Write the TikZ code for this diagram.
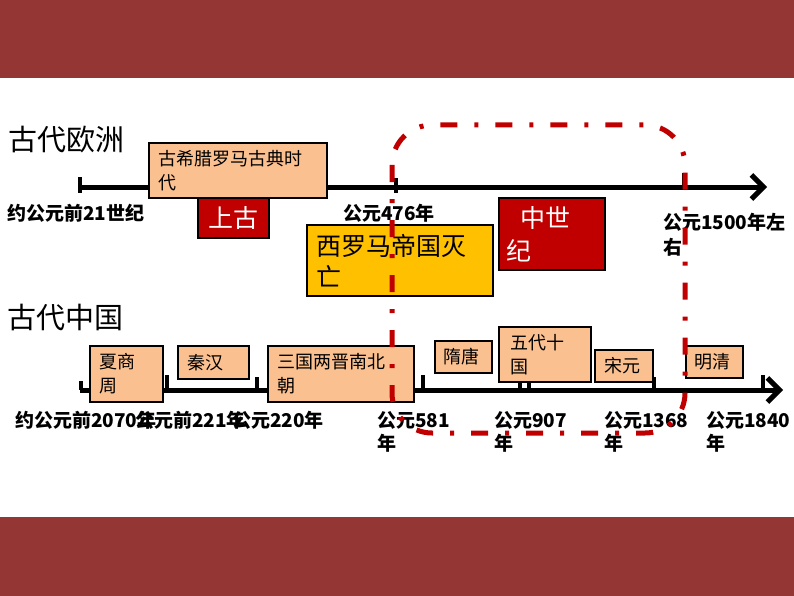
\documentclass[tikz,border=0pt]{standalone}
\usepackage{fontspec}
\setmainfont{Noto Sans CJK SC}
\usetikzlibrary{arrows.meta}
\definecolor{bandred}{HTML}{943634}
\definecolor{peach}{HTML}{FAC090}
\definecolor{eradark}{HTML}{C00000}
\definecolor{gold}{HTML}{FFC000}

\begin{document}
\begin{tikzpicture}[x=1pt, y=-1pt,
  axis/.style={line width=5pt, -{Straight Barb[length=12pt,width=24pt,line width=5pt]}},
  tickmark/.style={line width=4pt},
  era/.style={draw=black, line width=1.6pt, fill=peach, anchor=north west,
    inner xsep=10pt, inner ysep=0pt, align=left, font=\fontsize{18}{24}\selectfont},
  bigera/.style={era, font=\fontsize{25}{31}\selectfont},
  datelab/.style={anchor=base west, inner sep=0pt, align=left,
    font=\fontsize{19}{23}\selectfont\bfseries},
  title/.style={anchor=base west, inner sep=0pt, font=\fontsize{29}{33}\selectfont}]
\useasboundingbox (0,0) rectangle (794,596);
% bands
\fill[bandred] (0,0) rectangle (794,78);
\fill[bandred] (0,517) rectangle (794,596);

\node[title] (eutitle) at (8,151) {古代欧洲};
\node[title] (cntitle) at (7,328) {古代中国};

% europe axis
\coordinate (eu0) at (80,187);
\coordinate (eu1) at (767,187);
\draw[axis] (eu0) -- (eu1);
\foreach \x/\a/\b in {80/177/193, 396/178/193, 684/173/189}
  \draw[tickmark] (\x,\a) -- (\x,\b);

\node[era, minimum width=178pt, text width=158pt, minimum height=55pt] (greek) at (148,142) {古希腊罗马古典时\\代};
\node[bigera, fill=eradark, text=white, align=center, minimum width=71pt, text width=51pt, minimum height=40pt] (shanggu) at (197,197) {上古};
\node[bigera, fill=gold, minimum width=186pt, text width=166pt, minimum height=71pt] (fall) at (306,224) {西罗马帝国灭\\亡};
\node[bigera, fill=eradark, text=white, font=\fontsize{25}{33}\selectfont, inner xsep=8pt, minimum width=106pt, text width=90pt, minimum height=72pt] (zhongshi) at (498,197) {\hspace*{14pt}中世\\纪};

\node[datelab] (d21) at (7,220) {约公元前21世纪};
\node[datelab] (d476) at (343,220) {公元476年};
% two-line labels sit on their last line
\node[datelab, font=\fontsize{19}{25}\selectfont\bfseries] (d1500) at (663,254) {公元1500年左\\右};

% china axis
\coordinate (cn0) at (80,390);
\coordinate (cn1) at (783,390);
\draw[axis] (cn0) -- (cn1);
\foreach \x/\a in {81/381, 167/375, 257/377, 423/375, 520/382, 529/382, 654/377, 763/375}
  \draw[tickmark] (\x,\a) -- (\x,390);

\node[era, minimum width=73pt, text width=53pt, minimum height=56pt] (xia) at (89,345) {夏商\\周};
\node[era, minimum width=71pt, text width=51pt, minimum height=33pt] (qinhan) at (177,345) {秦汉};
\node[era, minimum width=146pt, text width=126pt, minimum height=56pt] (sanguo) at (267,345) {三国两晋南北\\朝};
\node[era, inner xsep=9pt, minimum width=57pt, text width=39pt, minimum height=32pt] (suitang) at (434,340) {隋唐};
\node[era, inner xsep=12pt, minimum width=92pt, text width=68pt, minimum height=55pt] (wudai) at (498,326) {五代十\\国};
\node[era, inner xsep=10pt, minimum width=58pt, text width=38pt, minimum height=32pt] (songyuan) at (594,349) {宋元};
\node[era, inner xsep=9pt, minimum width=57pt, text width=39pt, minimum height=32pt] (mingqing) at (685,345) {明清};

\node[datelab] (d2070) at (15,427) {约公元前2070年};
\node[datelab] (d221) at (135,427) {公元前221年};
\node[datelab] (d220) at (232,427) {公元220年};
\foreach \x/\n/\t in {377/d581/581, 494/d907/907, 604/d1368/1368, 706/d1840/1840}
  \node[datelab] (\n) at (\x,450) {公元\t\\年};

% middle ages frame
\draw[eradark, line width=5pt, rounded corners=40pt,
  dash pattern=on 17pt off 17pt on 4pt off 17pt] (392,125) rectangle (685,433);
\end{tikzpicture}
\end{document}
